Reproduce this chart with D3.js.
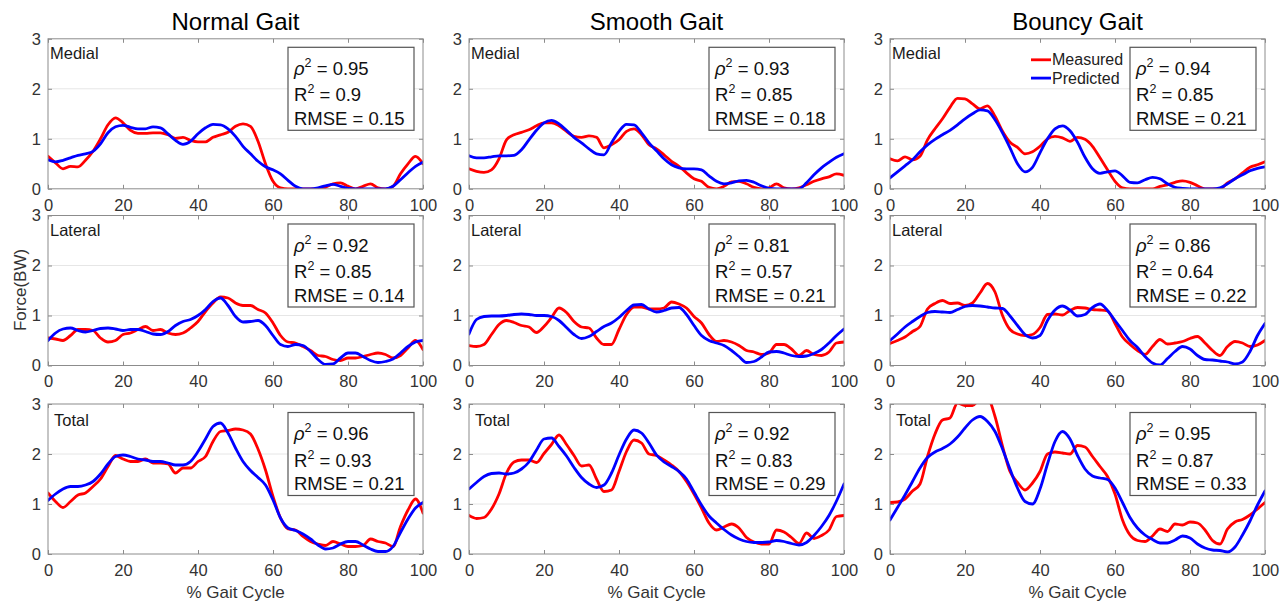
<!DOCTYPE html>
<html><head><meta charset="utf-8">
<script src="https://cdn.jsdelivr.net/npm/d3@7"></script>
<style>
html,body{margin:0;padding:0;background:#fff;}
svg{display:block;font-family:"Liberation Sans",Arial,Helvetica,sans-serif;}
</style></head><body>
<svg id="chart" width="1288" height="604"></svg>
<script>
// ---------------- data ----------------
const xs = d3.range(0, 101, 2);               // % gait cycle sample points
const gaits = ["Normal Gait", "Smooth Gait", "Bouncy Gait"];
const compartments = ["Medial", "Lateral", "Total"];
const seriesNames = ["Measured", "Predicted"];
const xTicks = [0, 20, 40, 60, 80, 100];
const yTicks = [0, 1, 2, 3];
const rho2 = [["0.95","0.92","0.96"],["0.93","0.81","0.92"],["0.94","0.86","0.95"]];
const r2   = [["0.9","0.85","0.93"],["0.85","0.57","0.83"],["0.85","0.64","0.87"]];
const rmse = [["0.15","0.14","0.21"],["0.18","0.21","0.29"],["0.21","0.22","0.33"]];

const normalMedialMeasured = [
 0.65,0.52,0.4,0.45,0.44,0.57,0.75,1.0,1.28,1.42,
 1.32,1.17,1.11,1.11,1.12,1.12,1.08,1.01,1.03,0.97,
 0.94,0.94,1.03,1.08,1.13,1.25,1.3,1.25,0.95,0.5,
 0.15,0.02,0,0,0,0,0,0.03,0.1,0.12,
 0.05,0,0.05,0.1,0.02,0,0.05,0.3,0.5,0.65,0.5];
const normalMedialPredicted = [
 0.58,0.54,0.57,0.62,0.67,0.7,0.75,0.9,1.12,1.24,
 1.27,1.23,1.2,1.2,1.24,1.22,1.1,0.97,0.89,0.95,
 1.1,1.22,1.29,1.28,1.2,1.05,0.85,0.7,0.55,0.44,
 0.38,0.3,0.17,0.05,0,0,0.02,0.06,0.09,0.05,
 0.01,0,0,0,0,0,0.05,0.18,0.32,0.45,0.53];
const normalLateralMeasured = [
 0.55,0.53,0.5,0.6,0.72,0.72,0.7,0.55,0.47,0.5,
 0.62,0.65,0.72,0.78,0.7,0.72,0.65,0.62,0.65,0.75,
 0.88,1.08,1.25,1.37,1.35,1.25,1.2,1.2,1.12,1.05,
 0.85,0.6,0.47,0.45,0.38,0.3,0.2,0.18,0.12,0.1,
 0.15,0.15,0.18,0.22,0.25,0.22,0.15,0.2,0.35,0.5,0.32];
const normalLateralPredicted = [
 0.5,0.65,0.73,0.75,0.7,0.67,0.7,0.74,0.75,0.73,
 0.7,0.72,0.72,0.68,0.63,0.62,0.68,0.8,0.88,0.92,
 1.0,1.12,1.28,1.35,1.2,0.98,0.87,0.88,0.9,0.8,
 0.6,0.42,0.38,0.42,0.4,0.28,0.12,0.02,0.03,0.15,
 0.25,0.25,0.18,0.1,0.06,0.08,0.13,0.25,0.38,0.47,0.5];
const normalTotalMeasured = [
 1.22,1.05,0.93,1.05,1.18,1.22,1.35,1.5,1.75,1.97,
 1.9,1.85,1.85,1.9,1.82,1.82,1.8,1.62,1.72,1.72,
 1.85,1.95,2.25,2.45,2.47,2.5,2.48,2.4,2.1,1.68,
 1.15,0.72,0.5,0.48,0.35,0.25,0.2,0.17,0.25,0.2,
 0.15,0.15,0.17,0.3,0.25,0.22,0.15,0.55,0.88,1.1,0.82];
const normalTotalPredicted = [
 1.07,1.2,1.3,1.35,1.35,1.38,1.45,1.6,1.8,1.95,
 1.98,1.95,1.9,1.88,1.85,1.85,1.82,1.78,1.78,1.85,
 2.05,2.3,2.55,2.62,2.42,2.12,1.85,1.67,1.53,1.38,
 1.08,0.72,0.52,0.47,0.4,0.3,0.18,0.1,0.12,0.2,
 0.25,0.25,0.18,0.1,0.05,0.05,0.15,0.43,0.7,0.92,1.03];

const smoothMedialMeasured = [
 0.4,0.35,0.33,0.38,0.6,0.98,1.08,1.13,1.18,1.26,
 1.32,1.32,1.26,1.15,1.05,1.03,1.06,1.03,0.82,0.88,
 0.98,1.15,1.2,1.08,0.88,0.8,0.68,0.55,0.45,0.32,
 0.2,0.15,0.03,0,0.05,0.14,0.15,0.1,0.03,0,
 0.02,0.1,0.02,0,0.02,0.08,0.15,0.2,0.24,0.3,0.27];
const smoothMedialPredicted = [
 0.66,0.62,0.62,0.64,0.66,0.66,0.67,0.78,0.98,1.17,
 1.32,1.37,1.3,1.17,1.03,0.92,0.8,0.7,0.68,0.92,
 1.15,1.29,1.28,1.12,0.92,0.76,0.6,0.48,0.42,0.4,
 0.4,0.38,0.26,0.15,0.1,0.12,0.16,0.17,0.13,0.06,
 0.01,0,0,0,0,0.12,0.28,0.42,0.53,0.63,0.7];
const smoothLateralMeasured = [
 0.4,0.38,0.42,0.62,0.82,0.9,0.86,0.8,0.77,0.66,
 0.78,0.96,1.15,1.06,0.88,0.77,0.75,0.55,0.42,0.42,
 0.72,1.02,1.17,1.17,1.13,1.13,1.15,1.27,1.23,1.15,
 0.98,0.85,0.62,0.48,0.5,0.47,0.4,0.3,0.27,0.22,
 0.25,0.42,0.42,0.33,0.2,0.3,0.22,0.2,0.27,0.45,0.47];
const smoothLateralPredicted = [
 0.63,0.92,0.98,0.99,0.99,1.0,1.02,1.03,1.02,1.0,
 1.0,0.98,0.9,0.76,0.62,0.54,0.58,0.68,0.78,0.85,
 0.96,1.1,1.21,1.22,1.13,1.07,1.1,1.15,1.16,1.02,
 0.8,0.6,0.5,0.45,0.4,0.3,0.18,0.06,0.08,0.17,
 0.27,0.28,0.25,0.2,0.18,0.19,0.24,0.32,0.45,0.6,0.73];
const smoothTotalMeasured = [
 0.77,0.71,0.73,0.9,1.2,1.62,1.84,1.88,1.88,1.83,
 2.01,2.19,2.38,2.19,1.97,1.76,1.78,1.5,1.25,1.28,
 1.65,2.05,2.28,2.22,2.0,1.97,1.88,1.78,1.65,1.45,
 1.2,0.92,0.62,0.48,0.54,0.6,0.52,0.33,0.24,0.2,
 0.2,0.48,0.44,0.33,0.21,0.42,0.31,0.37,0.48,0.75,0.77];
const smoothTotalPredicted = [
 1.3,1.43,1.55,1.61,1.62,1.6,1.62,1.7,1.84,2.08,
 2.3,2.32,2.15,1.96,1.73,1.53,1.4,1.33,1.38,1.62,
 1.98,2.3,2.48,2.42,2.22,1.98,1.84,1.75,1.65,1.5,
 1.24,0.98,0.76,0.62,0.49,0.38,0.3,0.25,0.23,0.23,
 0.24,0.27,0.25,0.21,0.18,0.23,0.37,0.55,0.77,1.06,1.4];

const bouncyMedialMeasured = [
 0.6,0.56,0.64,0.58,0.65,0.98,1.2,1.4,1.63,1.81,
 1.8,1.7,1.6,1.66,1.45,1.15,0.93,0.83,0.7,0.74,
 0.85,1.0,1.05,1.02,0.95,1.03,0.99,0.85,0.62,0.38,
 0.15,0.02,0,0,0,0,0.05,0.08,0.13,0.16,
 0.13,0.06,0,0,0,0.12,0.2,0.32,0.43,0.48,0.54];
const bouncyMedialPredicted = [
 0.22,0.34,0.46,0.58,0.74,0.88,0.99,1.08,1.17,1.28,
 1.4,1.5,1.58,1.56,1.38,1.12,0.82,0.5,0.34,0.43,
 0.72,1.0,1.2,1.26,1.16,0.93,0.63,0.4,0.31,0.34,
 0.36,0.26,0.13,0.12,0.18,0.23,0.2,0.1,0.03,0.01,
 0,0,0,0,0.02,0.1,0.2,0.28,0.36,0.41,0.44];
const bouncyLateralMeasured = [
 0.44,0.5,0.57,0.68,0.78,1.13,1.24,1.3,1.24,1.25,
 1.2,1.25,1.45,1.64,1.47,1.0,0.72,0.63,0.6,0.62,
 0.76,1.02,1.03,1.01,1.1,1.16,1.15,1.12,1.11,1.09,
 0.84,0.57,0.42,0.3,0.22,0.38,0.52,0.43,0.45,0.48,
 0.54,0.58,0.45,0.3,0.2,0.38,0.48,0.45,0.38,0.41,0.5];
const bouncyLateralPredicted = [
 0.5,0.63,0.77,0.88,0.98,1.06,1.08,1.07,1.06,1.12,
 1.18,1.2,1.19,1.17,1.15,1.14,0.99,0.8,0.62,0.55,
 0.6,0.9,1.11,1.19,1.11,0.99,1.02,1.16,1.23,1.1,
 0.9,0.7,0.5,0.36,0.18,0.05,0.01,0.14,0.28,0.38,
 0.33,0.2,0.12,0.11,0.09,0.07,0.03,0.07,0.28,0.6,0.84];
const bouncyTotalMeasured = [
 1.03,1.04,1.1,1.26,1.4,1.95,2.4,2.68,2.72,3.02,
 2.97,2.97,3.1,3.12,2.75,2.16,1.65,1.43,1.28,1.42,
 1.65,2.0,2.04,2.02,2.0,2.17,2.14,1.95,1.75,1.55,
 1.2,0.68,0.38,0.27,0.25,0.36,0.5,0.45,0.6,0.58,
 0.64,0.62,0.48,0.27,0.2,0.5,0.64,0.69,0.78,0.9,1.03];
const bouncyTotalPredicted = [
 0.68,0.93,1.18,1.45,1.72,1.93,2.04,2.11,2.2,2.34,
 2.52,2.68,2.75,2.65,2.45,2.1,1.7,1.32,1.05,1.0,
 1.3,1.8,2.25,2.45,2.3,1.97,1.7,1.56,1.52,1.49,
 1.32,1.03,0.73,0.52,0.38,0.29,0.22,0.22,0.28,0.36,
 0.32,0.2,0.12,0.08,0.07,0.04,0.14,0.38,0.66,0.98,1.26];

// table built from the named arrays: [gait][compartment] -> [measured, predicted]
const table = [
 [[normalMedialMeasured, normalMedialPredicted],[normalLateralMeasured, normalLateralPredicted],[normalTotalMeasured, normalTotalPredicted]],
 [[smoothMedialMeasured, smoothMedialPredicted],[smoothLateralMeasured, smoothLateralPredicted],[smoothTotalMeasured, smoothTotalPredicted]],
 [[bouncyMedialMeasured, bouncyMedialPredicted],[bouncyLateralMeasured, bouncyLateralPredicted],[bouncyTotalMeasured, bouncyTotalPredicted]]
];

// ---------------- layout & style ----------------
const colLeft = [48, 469, 890];
const rowTop = [38.8, 215.5, 404];
const PW = 375, PH = 150;
const colors = ["#ff0000", "#0000ff"];
const tickColor = "#333";
const frameColor = "#8c8c8c";

const svg = d3.select("#chart");

gaits.forEach((g, gi) => {
  const left = colLeft[gi];
  svg.append("text").attr("x", left + PW/2).attr("y", 29.5)
    .attr("text-anchor", "middle").attr("font-size", 24).attr("fill", "#000").text(g);
  svg.append("text").attr("x", left + PW/2).attr("y", 597.5)
    .attr("text-anchor", "middle").attr("font-size", 17).attr("fill", tickColor).text("% Gait Cycle");

  compartments.forEach((c, ci) => {
    const top = rowTop[ci];
    const x = d3.scaleLinear().domain([0, 100]).range([left, left + PW]);
    const y = d3.scaleLinear().domain([0, 3]).range([top + PH, top]);
    const gp = svg.append("g");

    // gridlines
    gp.selectAll(".grid").data([1, 2]).join("line")
      .attr("x1", left).attr("x2", left + PW)
      .attr("y1", d => y(d)).attr("y2", d => y(d))
      .attr("stroke", "#e6e6e6").attr("stroke-width", 1);

    // axes
    const styleAxis = (sel) => {
      sel.select(".domain").remove();
      sel.selectAll(".tick line").attr("stroke", frameColor);
      sel.selectAll("text").attr("font-size", 16.5).attr("fill", tickColor)
        .attr("font-family", "'Liberation Sans', Arial, sans-serif");
    };
    gp.append("g").attr("transform", `translate(0,${top + PH})`)
      .call(d3.axisBottom(x).tickValues(xTicks).tickFormat(d3.format("d")).tickSizeInner(-4).tickSizeOuter(0).tickPadding(10))
      .call(styleAxis);
    gp.append("g").attr("transform", `translate(0,${top})`)
      .call(d3.axisTop(x).tickValues(xTicks).tickSizeInner(-4).tickSizeOuter(0).tickFormat(""))
      .call(styleAxis);
    gp.append("g").attr("transform", `translate(${left},0)`)
      .call(d3.axisLeft(y).tickValues(yTicks).tickFormat(d3.format("d")).tickSizeInner(-4).tickSizeOuter(0).tickPadding(7))
      .call(styleAxis);
    gp.append("g").attr("transform", `translate(${left + PW},0)`)
      .call(d3.axisRight(y).tickValues(yTicks).tickSizeInner(-4).tickSizeOuter(0).tickFormat(""))
      .call(styleAxis);

    // clip
    const cid = `clip-${gi}-${ci}`;
    gp.append("clipPath").attr("id", cid).append("rect")
      .attr("x", left).attr("y", top).attr("width", PW).attr("height", PH);

    const line = d3.line().x((d, i) => x(xs[i])).y(d => y(d)).curve(d3.curveMonotoneX);
    table[gi][ci].forEach((vals, si) => {
      gp.append("path").datum(vals)
        .attr("clip-path", `url(#${cid})`)
        .attr("d", line).attr("fill", "none")
        .attr("stroke", colors[si]).attr("stroke-width", 2.8)
        .attr("stroke-linejoin", "round").attr("stroke-linecap", "round");
    });

    // frame
    gp.append("rect").attr("x", left).attr("y", top).attr("width", PW).attr("height", PH)
      .attr("fill", "none").attr("stroke", frameColor).attr("stroke-width", 1);

    // compartment label
    gp.append("text").attr("x", left + (ci === 2 ? 6 : 2)).attr("y", top + (ci === 2 ? 21.5 : 20))
      .attr("font-size", 16.5).attr("fill", "#1a1a1a").text(c);

    // stats box
    const bw = 126, bh = 83;
    const bx = left + PW - 9 - bw, by = top + 8.5;
    gp.append("rect").attr("x", bx).attr("y", by).attr("width", bw).attr("height", bh)
      .attr("fill", "#fff").attr("stroke", "#555").attr("stroke-width", 1.2);
    const st = (yy, parts) => {
      const t = gp.append("text").attr("x", bx + 6).attr("y", yy).attr("font-size", 18.5).attr("fill", "#111");
      parts.forEach(p => {
        const ts = t.append("tspan").text(p.t);
        if (p.italic) ts.attr("font-style", "italic");
        if (p.sup) ts.attr("font-size", 12.5).attr("dy", -8);
        if (p.after) ts.attr("dy", 8);
      });
    };
    st(by + 27.5, [{t: "ρ", italic: true}, {t: "2", sup: true}, {t: " = " + rho2[gi][ci], after: true}]);
    st(by + 54, [{t: "R"}, {t: "2", sup: true}, {t: " = " + r2[gi][ci], after: true}]);
    st(by + 77.5, [{t: "RMSE = " + rmse[gi][ci]}]);

    // legend (Bouncy / Medial only)
    if (gi === 2 && ci === 0) {
      seriesNames.forEach((n, si) => {
        const ly = top + 21 + si * 18.3;
        gp.append("line").attr("x1", left + 141).attr("x2", left + 161)
          .attr("y1", ly).attr("y2", ly).attr("stroke", colors[si]).attr("stroke-width", 2.8);
        gp.append("text").attr("x", left + 162).attr("y", ly + 5.5)
          .attr("font-size", 16).attr("fill", "#222").text(n);
      });
    }
  });
});

// y-axis label
svg.append("text").attr("transform", "translate(26,290) rotate(-90)")
  .attr("text-anchor", "middle").attr("font-size", 17).attr("fill", tickColor).text("Force(BW)");
</script>
</body></html>
